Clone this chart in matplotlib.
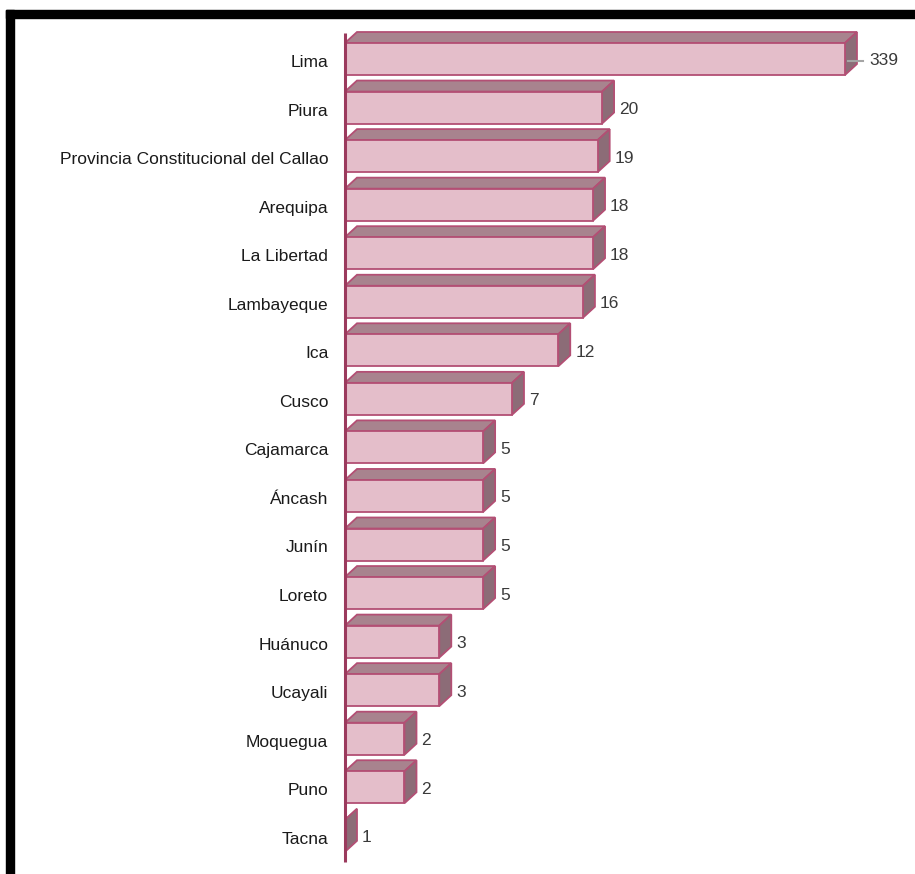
import matplotlib
matplotlib.use('Agg')
import matplotlib.pyplot as plt
from matplotlib.patches import Polygon, Rectangle
import numpy as np

categories = ["Lima", "Piura", "Provincia Constitucional del Callao", "Arequipa",
              "La Libertad", "Lambayeque", "Ica", "Cusco", "Cajamarca", "Áncash",
              "Junín", "Loreto", "Huánuco", "Ucayali", "Moquegua", "Puno", "Tacna"]
values = [339, 20, 19, 18, 18, 16, 12, 7, 5, 5, 5, 5, 3, 3, 2, 2, 1]

FONT = ['Liberation Sans Narrow', 'Liberation Sans', 'DejaVu Sans']
W, H = 915, 874
PX_DEC = 197.6
X0 = 345
Y0 = 61
DY = 48.55

fig = plt.figure(figsize=(W / 100, H / 100), dpi=100)
fig.patch.set_facecolor('white')
ax = fig.add_axes([X0 / W, 0, 1 - X0 / W, 1])
ax.set_xscale('log')
ax.set_xlim(1, 10 ** ((W - X0) / PX_DEC))
ax.set_ylim((H - Y0) / DY, -Y0 / DY)
for s in ax.spines.values():
    s.set_visible(False)
ax.set_xticks([])
ax.minorticks_off()
ax.set_yticks(range(len(categories)))
ax.set_yticklabels(categories, family=FONT, fontsize=12.5, color='#1a1a1a')
ax.tick_params(axis='y', length=0, pad=12)
ax.set_facecolor('none')

front_c = '#E4BECA'
edge_c = '#B34F74'
top_c = '#A8838E'
side_c = '#8C6C77'

yc = np.arange(len(categories))
hpx = 32
h = hpx / DY
yf = yc - 2 / DY
widths = np.array(values, dtype=float) - 1
ax.barh(yf, widths, left=1, height=h, color=front_c, edgecolor=edge_c, lw=1.3, zorder=3)

inv = ax.transData.inverted()
ddx, ddy = 12, 11
for i, v in enumerate(values):
    yt = yf[i] - h / 2
    yb = yf[i] + h / 2
    p1 = ax.transData.transform((1, yt))
    p2 = ax.transData.transform((v, yt))
    pb = ax.transData.transform((v, yb))
    off = np.array([ddx, ddy])
    top = inv.transform(np.array([p1, p2, p2 + off, p1 + off]))
    side = inv.transform(np.array([pb, p2, p2 + off, pb + off]))
    ax.add_patch(Polygon(top, closed=True, fc=top_c, ec=edge_c, lw=1.3, zorder=2))
    ax.add_patch(Polygon(side, closed=True, fc=side_c, ec=edge_c, lw=1.3, zorder=2))
    pc = ax.transData.transform((v, yc[i]))
    if i == 0:
        l1 = inv.transform(np.array([pc + [3, 0], pc + [18, 0]]))
        ax.plot(l1[:, 0], l1[:, 1], color='#A5A5A5', lw=1.5, zorder=4)
        tx = inv.transform(pc + [24, 0])
    else:
        tx = inv.transform(pc + [17, 0])
    ax.text(tx[0], tx[1], str(v), ha='left', va='center', family=FONT,
            fontsize=12.5, color='#3a3a3a')

# axis line
a1 = inv.transform(np.array([[X0, H - 33], [X0, H - 862]]))
ax.plot(a1[:, 0], a1[:, 1], color='#9B3A5D', lw=2.2, zorder=5, clip_on=False,
        solid_capstyle='butt')

# black frame (top and left)
fig.patches.append(Rectangle((6 / W, (H - 18) / H), 1 - 6 / W, 8 / H,
                             transform=fig.transFigure, color='black', zorder=10))
fig.patches.append(Rectangle((6 / W, 0), 8 / W, (H - 10) / H,
                             transform=fig.transFigure, color='black', zorder=10))

fig.savefig('out.png', dpi=100)
